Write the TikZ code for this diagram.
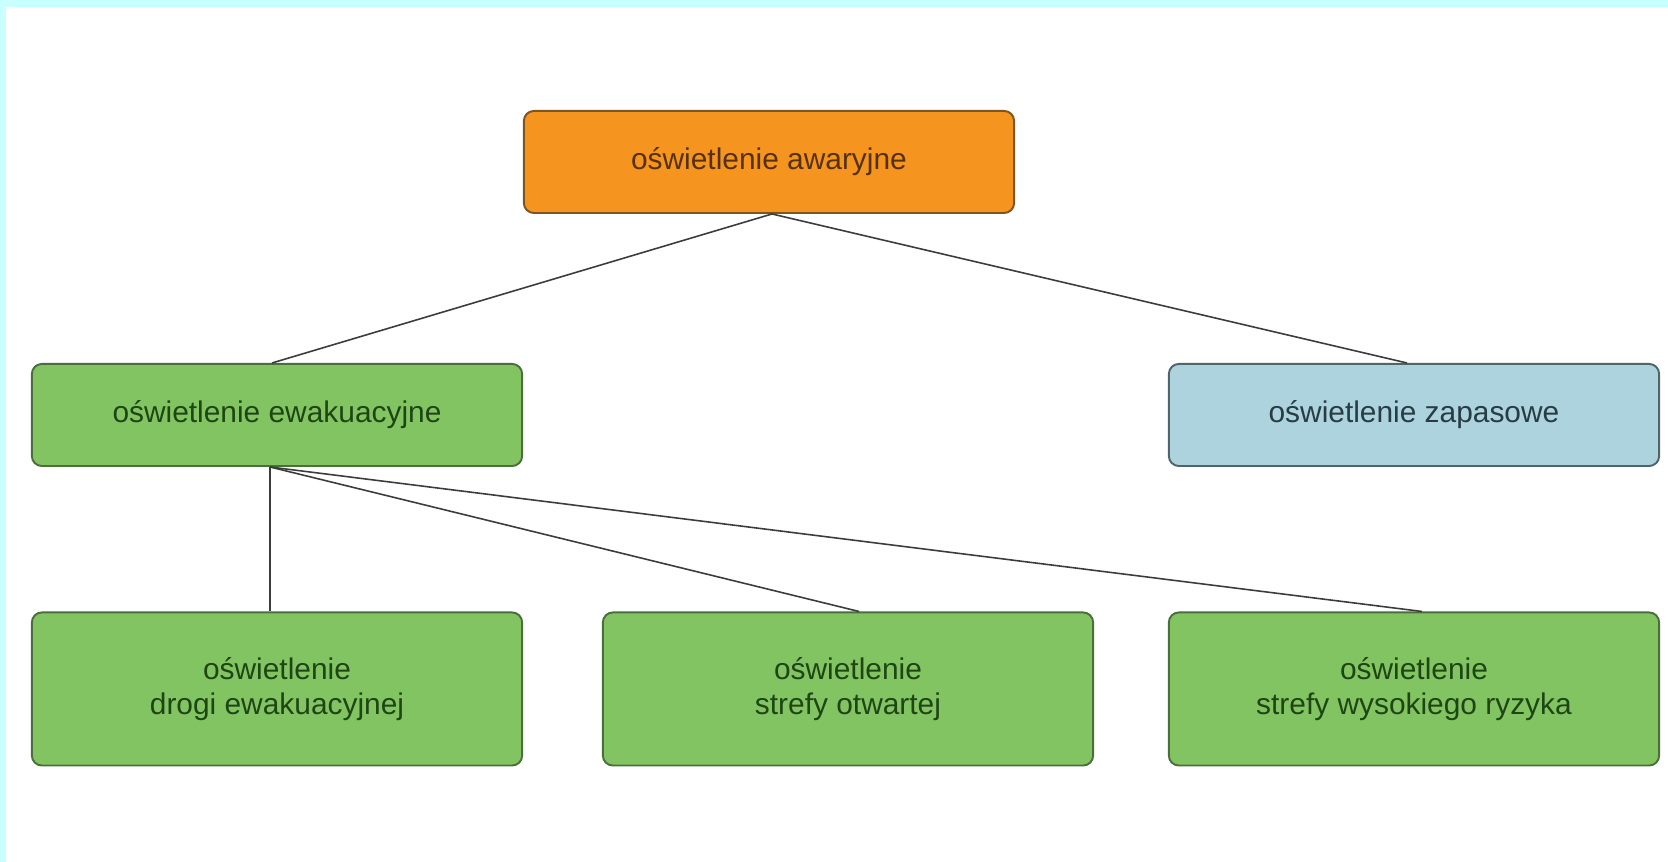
\documentclass[tikz,border=0pt]{standalone}
\usepackage{fontspec}
\setmainfont{Liberation Sans}
\definecolor{ramka}{RGB}{200,255,255}
\definecolor{pomarancz}{RGB}{245,148,30}
\definecolor{pomaranczB}{RGB}{125,85,35}
\definecolor{pomaranczT}{RGB}{85,50,15}
\definecolor{zielony}{RGB}{131,196,98}
\definecolor{zielonyB}{RGB}{75,110,60}
\definecolor{zielonyT}{RGB}{30,70,20}
\definecolor{niebieski}{RGB}{173,211,222}
\definecolor{niebieskiB}{RGB}{80,100,108}
\definecolor{niebieskiT}{RGB}{40,60,68}
\definecolor{linia}{RGB}{60,60,60}
\begin{document}
\begin{tikzpicture}[x=0.01cm,y=-0.01cm]
        \tikzset{
          blok/.style={draw,rounded corners=0.1cm,line width=0.55pt,
            minimum width=4.9cm,minimum height=1.02cm,inner sep=0mm,
            align=center,font=\fontsize{8.5}{10}\selectfont},
          wysoki/.style={minimum height=1.53cm},
        }
        \tikzset{
          awaryjny/.style={blok,fill=pomarancz,draw=pomaranczB,text=pomaranczT},
          ewakuacyjny/.style={blok,fill=zielony,draw=zielonyB,text=zielonyT},
          zapasowy/.style={blok,fill=niebieski,draw=niebieskiB,text=niebieskiT},
          polacz/.style={draw=linia,line width=0.45pt},
        }

        %TLO
        \fill[white] (0,0) rectangle (1668,862);
        \fill[ramka] (0,0) rectangle (1668,7);
        \fill[ramka] (0,0) rectangle (6,862);
        \useasboundingbox (0,0) rectangle (1668,862);

        %POZIOM 1
        \node[awaryjny] (awar) at (769,162) {oświetlenie awaryjne};

        %POZIOM 2
        \node[ewakuacyjny] (ewak) at (277,415) {oświetlenie ewakuacyjne};
        \node[zapasowy] (zapas) at (1414,415) {oświetlenie zapasowe};

        %POZIOM 3
        \node[ewakuacyjny,wysoki] (droga) at (277,689) {oświetlenie\\drogi ewakuacyjnej};
        \node[ewakuacyjny,wysoki] (otwarta) at (848,689) {oświetlenie\\strefy otwartej};
        \node[ewakuacyjny,wysoki] (ryzyko) at (1414,689) {oświetlenie\\strefy wysokiego ryzyka};

        %POLACZENIA
        \draw[polacz] ([xshift=0.03cm]awar.south) -- ([xshift=-0.05cm]ewak.north);
        \draw[polacz] ([xshift=0.03cm]awar.south) -- ([xshift=-0.07cm]zapas.north);
        \draw[polacz] ([xshift=-0.07cm]ewak.south) -- ([xshift=-0.07cm]droga.north);
        \draw[polacz] ([xshift=-0.07cm]ewak.south) -- ([xshift=0.11cm]otwarta.north);
        \draw[polacz] ([xshift=-0.07cm]ewak.south) -- ([xshift=0.08cm]ryzyko.north);
    \end{tikzpicture}
\end{document}
